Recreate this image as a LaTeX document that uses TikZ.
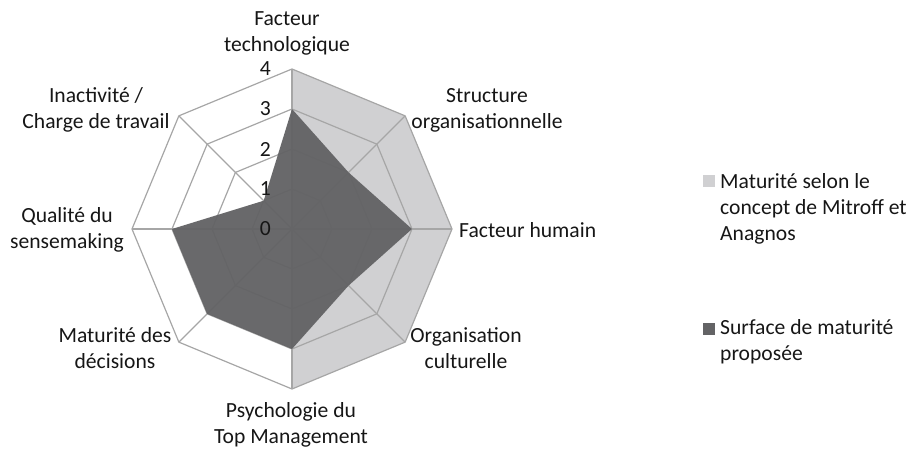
\documentclass[tikz,border=0pt]{standalone}
\usepackage{fontspec}
\setmainfont{Carlito}
\definecolor{clair}{RGB}{208,208,210}
\definecolor{fonce}{RGB}{99,99,101}
\definecolor{grille}{RGB}{166,166,166}
\definecolor{texte}{RGB}{22,22,22}
\tikzset{
  lbl/.style={align=center, inner sep=0pt, text=texte, font=\fontsize{21.6}{26}\selectfont},
  legende/.style={lbl, align=left, anchor=west},
}
\begin{document}
\begin{tikzpicture}[x=1pt,y=1pt]
    \useasboundingbox (0,0) rectangle (921,449);
    \begin{scope}[shift={(292,220)}]
	\fill[clair] (90:160) -- (45:160) -- (0:160) -- (-45:160) -- (-90:160) -- (0,0) -- cycle;
	\foreach \r in {40,80,120,160}
	    \draw[grille, line width=1.2pt] (0:\r) -- (45:\r) -- (90:\r) -- (135:\r) -- (180:\r) -- (225:\r) -- (270:\r) -- (315:\r) -- cycle;
	\foreach \a in {0,45,...,315}
	    \draw[grille, line width=1.2pt] (0,0) -- (\a:160);
	\fill[fonce, opacity=0.96] (90:120) -- (45:80) -- (0:120) -- (-45:80) -- (-90:120) -- (-135:120) -- (180:120) -- (135:40) -- cycle;
	\foreach \v in {0,...,4}
	    \node[lbl, anchor=east] (grad\v) at (-21, 40*\v) {\v};
    \end{scope}
    % axes
    \node[lbl] (techno) at (287,415.5) {Facteur\\technologique};
    \node[lbl] (structure) at (487,338.5) {Structure\\organisationnelle};
    \node[lbl, anchor=west] (humain) at (459,219) {Facteur humain};
    \node[lbl] (culture) at (466,101) {Organisation\\culturelle};
    \node[lbl] (psycho) at (291,24.5) {Psychologie du\\Top Management};
    \node[lbl] (decisions) at (115,100.5) {Maturité des\\décisions};
    \node[lbl] (qualite) at (67,219) {Qualité du\\sensemaking};
    \node[lbl] (inactivite) at (96,339) {Inactivité /\\Charge de travail};
    % legende
    \fill[clair] (702.5,262) rectangle (714.5,274);
    \node[legende] (concept) at (720,240.5) {Maturité selon le\\concept de Mitroff et\\Anagnos};
    \fill[fonce] (702.5,114) rectangle (714.5,126);
    \node[legende] (surface) at (720,107.5) {Surface de maturité\\proposée};
\end{tikzpicture}
\end{document}
